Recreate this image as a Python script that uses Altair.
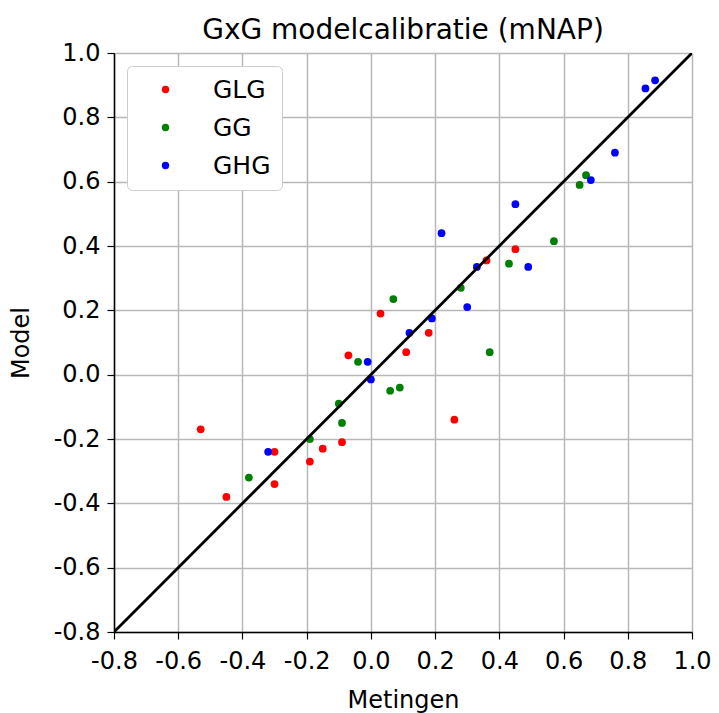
import altair as alt
import pandas as pd

series = ["GLG", "GG", "GHG"]
colors = ["#ff0000", "#008000", "#0000ff"]

glg_x = [-0.53, -0.45, -0.30, -0.30, -0.19, -0.15, -0.09, -0.07, 0.03, 0.11, 0.18, 0.26, 0.36, 0.45]
glg_y = [-0.17, -0.38, -0.24, -0.34, -0.27, -0.23, -0.21, 0.06, 0.19, 0.07, 0.13, -0.14, 0.355, 0.39]

gg_x = [-0.38, -0.19, -0.10, -0.09, -0.04, 0.06, 0.09, 0.07, 0.28, 0.37, 0.43, 0.57, 0.65, 0.67]
gg_y = [-0.32, -0.20, -0.09, -0.15, 0.04, -0.05, -0.04, 0.235, 0.27, 0.07, 0.345, 0.415, 0.59, 0.62]

ghg_x = [-0.32, -0.01, 0.00, 0.12, 0.19, 0.22, 0.30, 0.33, 0.45, 0.49, 0.685, 0.76, 0.855, 0.885]
ghg_y = [-0.24, 0.04, -0.015, 0.13, 0.175, 0.44, 0.21, 0.335, 0.53, 0.335, 0.605, 0.69, 0.89, 0.915]

line_x = [-0.8, 1.0]
line_y = [-0.8, 1.0]

ticks = [-0.8, -0.6, -0.4, -0.2, 0.0, 0.2, 0.4, 0.6, 0.8, 1.0]

rows = []
for name, xs, ys in [("GLG", glg_x, glg_y), ("GG", gg_x, gg_y), ("GHG", ghg_x, ghg_y)]:
    for a, b in zip(xs, ys):
        rows.append({"Metingen": a, "Model": b, "reeks": name})
df = pd.DataFrame(rows)
line_df = pd.DataFrame({"Metingen": line_x, "Model": line_y})

FONT = "DejaVu Sans"

xscale = alt.Scale(domain=[-0.8, 1.0], nice=False, zero=False)
yscale = alt.Scale(domain=[-0.8, 1.0], nice=False, zero=False)

axis_common = dict(
    values=ticks, labelExpr="replace(format(datum.value, '.1f'), '\u2212', '-')",
    labelOverlap=False, labelFlush=False, labelFontSize=24, labelFont=FONT, labelColor="black",
    titleFontSize=24, titleFont=FONT, titleFontWeight="normal", titleColor="black",
    tickSize=7, tickColor="black", tickWidth=1.2, domainColor="black", domainWidth=1.5,
    gridColor="#b8b8b8", gridWidth=1.5,
)

points = alt.Chart(df).mark_circle(size=60, opacity=1).encode(
    x=alt.X("Metingen:Q", scale=xscale,
            axis=alt.Axis(titlePadding=15, labelPadding=10, **axis_common)),
    y=alt.Y("Model:Q", scale=yscale,
            axis=alt.Axis(titlePadding=20, labelPadding=7, **axis_common)),
    color=alt.Color(
        "reeks:N",
        scale=alt.Scale(domain=series, range=colors),
        sort=series,
        title=None,
        legend=alt.Legend(
            orient="none", legendX=13, legendY=13, direction="vertical",
            symbolType="circle", symbolSize=55, labelFontSize=25, labelFont=FONT,
            labelColor="black", labelOffset=35, symbolOffset=15, rowPadding=12,
            padding=11, fillColor="white", strokeColor="#cccccc", cornerRadius=5,
        ),
    ),
)

diag = alt.Chart(line_df).mark_line(color="black", strokeWidth=2.8, clip=True).encode(
    x=alt.X("Metingen:Q", scale=xscale),
    y=alt.Y("Model:Q", scale=yscale),
)

chart = alt.layer(points, diag).properties(
    width=578, height=579,
    title=alt.TitleParams("GxG modelcalibratie (mNAP)", fontSize=28, font=FONT,
                          fontWeight="normal", color="black", offset=-4, anchor="middle"),
    autosize=alt.AutoSizeParams(type="none"),
    padding={"left": 106, "top": 45, "right": 19, "bottom": 81},
).configure_view(stroke="black", strokeWidth=1.5).configure(background="white")

chart.save("out.html", embed_options={"renderer": "svg", "actions": False})
